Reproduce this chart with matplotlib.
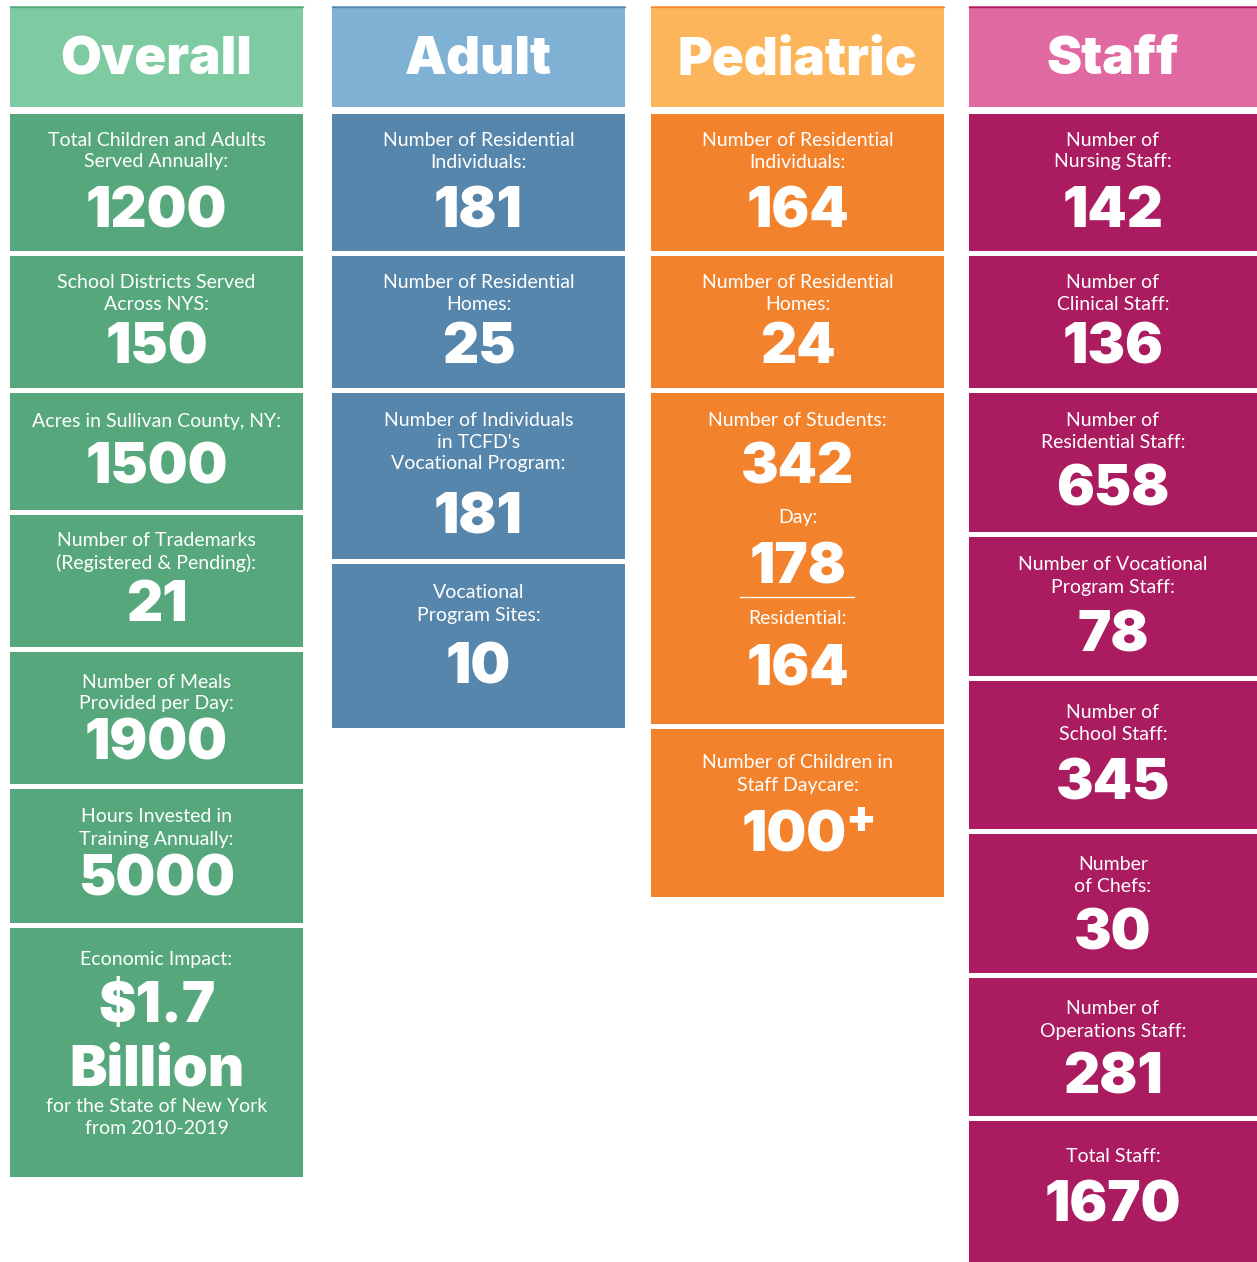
import matplotlib.pyplot as plt
from matplotlib.patches import Rectangle

# ---- data ----
headers = ["Overall", "Adult", "Pediatric", "Staff"]

overall_labels = ["Total Children and Adults\nServed Annually:",
                  "School Districts Served\nAcross NYS:",
                  "Acres in Sullivan County, NY:",
                  "Number of Trademarks\n(Registered & Pending):",
                  "Number of Meals\nProvided per Day:",
                  "Hours Invested in\nTraining Annually:",
                  "Economic Impact:"]
overall_values = ["1200", "150", "1500", "21", "1900", "5000", "$1.7\nBillion"]

adult_labels = ["Number of Residential\nIndividuals:",
                "Number of Residential\nHomes:",
                "Number of Individuals\nin TCFD's\nVocational Program:",
                "Vocational\nProgram Sites:"]
adult_values = ["181", "25", "181", "10"]

ped_labels = ["Number of Residential\nIndividuals:",
              "Number of Residential\nHomes:",
              "Number of Students:",
              "Number of Children in\nStaff Daycare:"]
ped_values = ["164", "24", "342", "100"]
ped_students_day = 178
ped_students_res = 164

staff_labels = ["Number of\nNursing Staff:",
                "Number of\nClinical Staff:",
                "Number of\nResidential Staff:",
                "Number of Vocational\nProgram Staff:",
                "Number of\nSchool Staff:",
                "Number\nof Chefs:",
                "Number of\nOperations Staff:",
                "Total Staff:"]
staff_values = ["142", "136", "658", "78", "345", "30", "281", "1670"]

# ---- layout (pixels) ----
W, H = 1257, 1262
col_x = [(10, 303), (332, 625), (651, 944), (969, 1257)]
header_col = ["#7ecba1", "#7fb1d5", "#fdb55b", "#df69a0"]
body_col = ["#56a87c", "#5686ab", "#f3822c", "#aa1c5f"]

overall_boxes = [(114, 251), (256, 388), (393, 510), (515, 647), (652, 784), (789, 923), (928, 1177)]
overall_pos = [((140, 161), 208), ((282, 304), 344), ((420,), 465), ((540, 562), 602),
               ((681, 703), 741), ((816, 838), 877), ((958,), None)]
adult_boxes = [(114, 251), (256, 388), (393, 559), (564, 728)]
adult_pos = [((140, 161), 208), ((282, 304), 344), ((420, 441, 463), 514), ((592, 614), 664)]
ped_boxes = [(114, 251), (256, 388), (393, 724), (729, 897)]
ped_pos = [((140, 161), 208), ((282, 304), 344), ((420,), 464), ((762, 784), 833)]
staff_boxes = [(114, 251), (256, 388), (393, 532), (537, 676), (681, 829), (834, 973), (978, 1116), (1121, 1262)]
staff_pos = [((140, 161), 208), ((282, 304), 344), ((419, 441), 487), ((564, 586), 633),
             ((711, 733), 781), ((864, 886), 930), ((1008, 1030), 1075), ((1156,), 1203)]

LABEL_FONT = dict(family="Lato", fontsize=14, color="white")
NUM_FONT = dict(family="Inter", fontsize=40.5, fontweight="black", color="white")
NUM_DY = 4  # bbox centering sits a bit high for digits

fig = plt.figure(figsize=(W / 100, H / 100), dpi=100)
ax = fig.add_axes([0, 0, 1, 1])
ax.set_xlim(0, W)
ax.set_ylim(H, 0)
ax.axis("off")


def box(ci, y0, y1, color):
    x0, x1 = col_x[ci]
    ax.add_patch(Rectangle((x0, y0), x1 - x0, y1 - y0, facecolor=color, edgecolor="none"))


def cx(ci):
    return (col_x[ci][0] + col_x[ci][1]) / 2


def num(x, y, s, **kw):
    opts = dict(NUM_FONT)
    opts.update(kw)
    ax.text(x, y + NUM_DY, s, ha=opts.pop("ha", "center"), va="center", **opts)


# headers
for ci, name in enumerate(headers):
    box(ci, 6, 107, header_col[ci])
    ax.plot(col_x[ci], [6.5, 6.5], color=body_col[ci], lw=1)
    num(cx(ci), 57, name, fontsize=38)


def column(ci, boxes, labels, values, pos):
    for (y0, y1), lab, val, (ly, ny) in zip(boxes, labels, values, pos):
        box(ci, y0, y1, body_col[ci])
        for line, yy in zip(lab.split("\n"), ly):
            ax.text(cx(ci), yy + 1, line, ha="center", va="center", **LABEL_FONT)
        if ny is not None:
            num(cx(ci), ny, val)


column(0, overall_boxes, overall_labels, overall_values, overall_pos)
column(1, adult_boxes, adult_labels, adult_values, adult_pos)
column(2, ped_boxes[:3], ped_labels[:3], ped_values[:3], ped_pos[:3])
column(3, staff_boxes, staff_labels, staff_values, staff_pos)

# economic impact box
v1, v2 = overall_values[6].split("\n")
num(cx(0), 1003, v1)
num(cx(0), 1067, v2)
ax.text(cx(0), 1107, "for the State of New York", ha="center", va="center", **LABEL_FONT)
ax.text(cx(0), 1129, "from 2010-2019", ha="center", va="center", **LABEL_FONT)

# students breakdown
ax.text(cx(2), 517, "Day:", ha="center", va="center", **LABEL_FONT)
num(cx(2), 564, str(ped_students_day))
ax.plot([740, 854], [597, 597], color="white", lw=1)
ax.text(cx(2), 619, "Residential:", ha="center", va="center", **LABEL_FONT)
num(cx(2), 667, str(ped_students_res))

# daycare box
y0, y1 = ped_boxes[3]
box(2, y0, y1, body_col[2])
for line, yy in zip(ped_labels[3].split("\n"), ped_pos[3][0]):
    ax.text(cx(2), yy + 1, line, ha="center", va="center", **LABEL_FONT)
num(847, ped_pos[3][1], ped_values[3], ha="right")
num(845, 816, "+", ha="left", fontsize=32)

fig.savefig("out.png", dpi=100, facecolor="white")
